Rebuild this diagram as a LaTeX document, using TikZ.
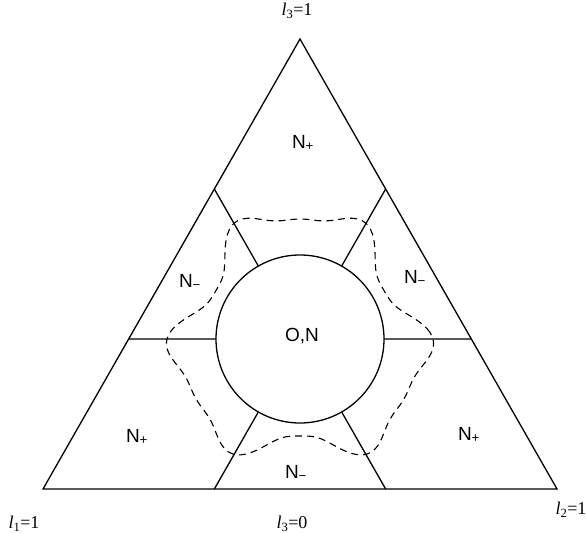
\documentclass[tikz,border=0pt]{standalone}
\usepackage{fontspec}
\setmainfont{Liberation Serif}
\newfontfamily\nsf{Liberation Sans}
\usetikzlibrary{calc}
\tikzset{
  edge/.style={line width=1.3pt},
  regionlbl/.style={inner sep=0pt, font=\fontsize{19}{20}\nsf},
  cornerlbl/.style={inner sep=0pt, font=\fontsize{18}{20}\selectfont},
  dashcurve/.style={line width=1.1pt, dash pattern=on 7pt off 5pt},
  declare function={rr(\t)=120.75+12.25*(2*((1+cos(6*\t))/2)^2-1)-11.5*sin(3*\t);}
}
\begin{document}
\begin{tikzpicture}[x=1pt,y=-1pt]
\useasboundingbox (0,0) rectangle (587,533);
\coordinate (A) at (43,489);
\coordinate (B) at (557,489);
\coordinate (C) at (300,39);
\coordinate (O) at (300,339);
\coordinate (pL1) at ($(C)!1/3!(A)$);
\coordinate (pL2) at ($(C)!2/3!(A)$);
\coordinate (pR1) at ($(C)!1/3!(B)$);
\coordinate (pR2) at ($(C)!2/3!(B)$);
\coordinate (pB1) at ($(A)!1/3!(B)$);
\coordinate (pB2) at ($(A)!2/3!(B)$);
% dashed curve
\draw[dashcurve] plot[smooth cycle, domain=0:357, samples=120] ({300+rr(\x)*cos(\x)},{339-rr(\x)*sin(\x)});
% boundary lines
\draw[edge] (pL1) -- (O) (pL2) -- (O) (pR1) -- (O) (pR2) -- (O) (pB1) -- (O) (pB2) -- (O);
\draw[edge] (A) -- (B) -- (C) -- cycle;
\node[draw, circle, edge, fill=white, minimum size=168pt, inner sep=0pt] (circ) at (O) {};
% labels
\node[regionlbl] (on) at (302,336) {O,N};
\node[regionlbl] (nt) at (303,143) {N\textsubscript{+}};
\node[regionlbl] (nl) at (190,282) {N\textsubscript{−}};
\node[regionlbl] (nr) at (415,278) {N\textsubscript{−}};
\node[regionlbl] (nb) at (296,473) {N\textsubscript{−}};
\node[regionlbl] (nbl) at (137,437) {N\textsubscript{+}};
\node[regionlbl] (nbr) at (469,435) {N\textsubscript{+}};
\node[cornerlbl] (lt) at (297,11) {\textit{l}\textsubscript{3}=1};
\node[cornerlbl] (lbl) at (24,524) {\textit{l}\textsubscript{1}=1};
\node[cornerlbl] (lbm) at (292,524) {\textit{l}\textsubscript{3}=0};
\node[cornerlbl] (lbr) at (571,510) {\textit{l}\textsubscript{2}=1};
\end{tikzpicture}
\end{document}
